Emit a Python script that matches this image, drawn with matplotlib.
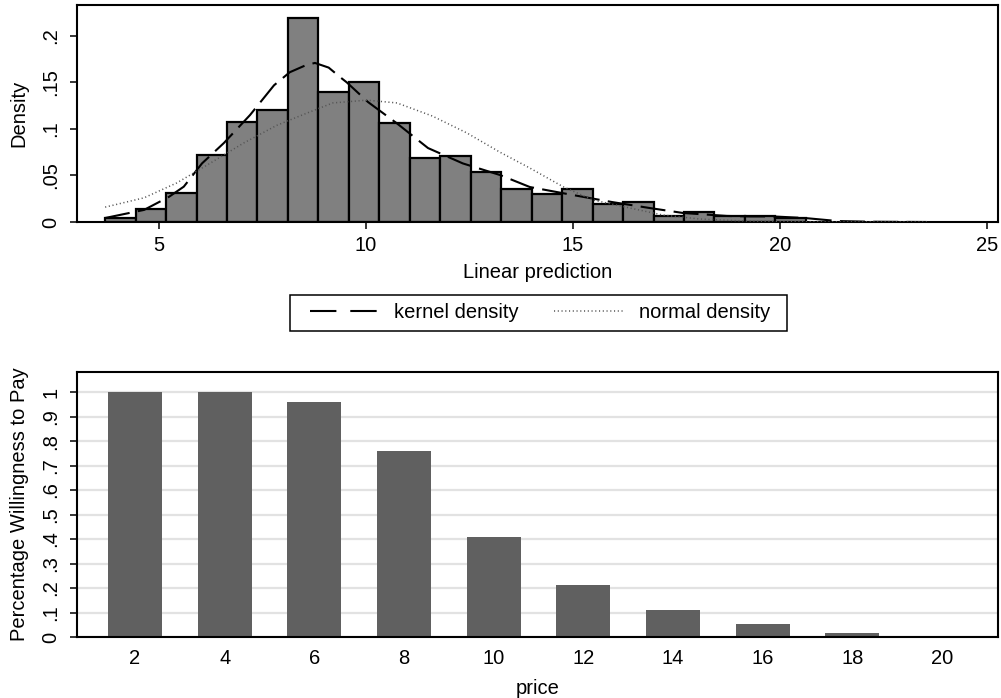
import matplotlib
matplotlib.use("Agg")
import matplotlib.pyplot as plt
from matplotlib.lines import Line2D
from matplotlib.patches import Rectangle

plt.rcParams['font.family'] = ['Liberation Sans', 'DejaVu Sans']
plt.rcParams['lines.scale_dashes'] = False

# ---- Top panel: histogram of linear prediction ----
bin_start = 3.70
bin_width = 0.736
hist_density = [0.0043, 0.0136, 0.0315, 0.072, 0.107, 0.120, 0.219, 0.140,
                0.150, 0.106, 0.069, 0.071, 0.054, 0.0358, 0.0305, 0.0358,
                0.0197, 0.0215, 0.0061, 0.0104, 0.0065, 0.0065, 0.0047]

kde_x = [3.70, 4.64, 5.24, 5.60, 6.04, 6.57, 7.20, 7.78, 8.16, 8.57, 8.77,
         9.10, 9.37, 9.54, 10.05, 10.75, 11.50, 12.34, 13.24, 13.96, 15.00,
         15.94, 16.86, 17.66, 18.72, 19.28, 19.83, 20.60, 21.40, 22.20, 23.55]
kde_y = [0.0043, 0.013, 0.027, 0.038, 0.063, 0.085, 0.115, 0.147, 0.161,
         0.169, 0.171, 0.166, 0.156, 0.150, 0.129, 0.106, 0.0795, 0.063,
         0.0505, 0.0376, 0.029, 0.0215, 0.015, 0.0097, 0.0065, 0.0060,
         0.0060, 0.0043, 0.001, 0.0003, 0.0]

norm_x = [3.70, 4.64, 5.43, 6.23, 7.05, 7.85, 8.57, 9.20, 10.02, 10.75,
          11.60, 12.44, 13.24, 13.96, 14.76, 15.48, 16.38, 17.17, 18.07,
          18.96, 20.00, 21.50, 23.55]
norm_y = [0.016, 0.026, 0.042, 0.063, 0.085, 0.104, 0.117, 0.128, 0.131,
          0.128, 0.114, 0.0957, 0.075, 0.058, 0.038, 0.0237, 0.015, 0.0075,
          0.0032, 0.0014, 0.0005, 0.0001, 0.0]

top_xticks = [5, 10, 15, 20, 25]
top_yticks = [0, 0.05, 0.1, 0.15, 0.2]
top_yticklabels = ['0', '.05', '.1', '.15', '.2']

# ---- Bottom panel: willingness to pay by price ----
prices = ['2', '4', '6', '8', '10', '12', '14', '16', '18', '20']
wtp = [1.0, 1.0, 0.958, 0.759, 0.408, 0.213, 0.111, 0.054, 0.0177, 0.004]
bot_yticks = [0, .1, .2, .3, .4, .5, .6, .7, .8, .9, 1]
bot_yticklabels = ['0', '.1', '.2', '.3', '.4', '.5', '.6', '.7', '.8', '.9', '1']

W, H = 1001, 698
fig = plt.figure(figsize=(W / 100, H / 100), dpi=100)

def axes_px(l, t, r, b):
    return fig.add_axes([l / W, 1 - b / H, (r - l) / W, (b - t) / H])

FS = 14.5
KDE_LS = (0, (18, 6))
NORM_LS = (0, (0.8, 1.9))

ax1 = axes_px(77, 5, 998, 222)
lefts = [bin_start + i * bin_width for i in range(len(hist_density))]
ax1.bar(lefts, hist_density, width=bin_width, align='edge', color='#808080',
        edgecolor='black', linewidth=1.6, zorder=2)
ax1.plot(kde_x, kde_y, color='black', linewidth=1.5, linestyle=KDE_LS, zorder=3)
ax1.plot(norm_x, norm_y, color='#555555', linewidth=1.1, linestyle=NORM_LS, zorder=3)
ax1.set_xlim(3.02, 25.27)
ax1.set_ylim(0, 0.2333)
ax1.set_xticks(top_xticks)
ax1.set_xticklabels([str(t) for t in top_xticks], fontsize=FS)
ax1.set_yticks(top_yticks)
ax1.set_yticklabels(top_yticklabels, fontsize=FS, rotation=90, va='center')
ax1.tick_params(direction='out', length=5, width=1.1)
ax1.tick_params(axis='y', pad=7)
ax1.tick_params(axis='x', pad=5)
ax1.set_xlabel('Linear prediction', fontsize=FS, labelpad=6)
ax1.set_ylabel('Density', fontsize=FS, labelpad=9)
for s in ax1.spines.values():
    s.set_linewidth(1.5)
    s.set_color('black')

# legend box (drawn as a figure rectangle) and frameless legend inside
fig.patches.append(Rectangle((290 / W, 1 - 331 / H), 497 / W, 36 / H,
                             transform=fig.transFigure, fill=False,
                             edgecolor='black', linewidth=1.1))
handles = [Line2D([], [], color='black', linewidth=1.5, linestyle=(0, (19, 10))),
           Line2D([], [], color='#555555', linewidth=1.1, linestyle=NORM_LS)]
leg = fig.legend(handles, ['kernel density', 'normal density'], ncol=2,
                 loc='center', bbox_to_anchor=(540 / W, 1 - 313 / H),
                 fontsize=FS, frameon=False, handlelength=3.4,
                 handletextpad=0.8, columnspacing=1.75, borderpad=0.0,
                 borderaxespad=0)

ax2 = axes_px(77, 372, 998, 637)
pos = list(range(len(prices)))
ax2.bar(pos, wtp, width=0.602, color='#606060', zorder=2)
ax2.set_xlim(-0.647, 9.624)
ax2.set_ylim(0, 1.082)
ax2.set_xticks(pos)
ax2.set_xticklabels(prices, fontsize=FS)
ax2.tick_params(axis='x', length=0, pad=9)
ax2.set_yticks(bot_yticks)
ax2.set_yticklabels(bot_yticklabels, fontsize=FS, rotation=90, va='center')
ax2.tick_params(axis='y', direction='out', length=5, width=1.1, pad=7)
ax2.yaxis.grid(True, color='#e2e2e2', linewidth=1.6, zorder=0)
ax2.set_axisbelow(True)
ax2.set_xlabel('price', fontsize=FS, labelpad=7.5)
ax2.set_ylabel('Percentage Willingness to Pay', fontsize=FS, labelpad=9)
for s in ax2.spines.values():
    s.set_linewidth(1.5)
    s.set_color('black')

fig.savefig('out.png', dpi=100)
